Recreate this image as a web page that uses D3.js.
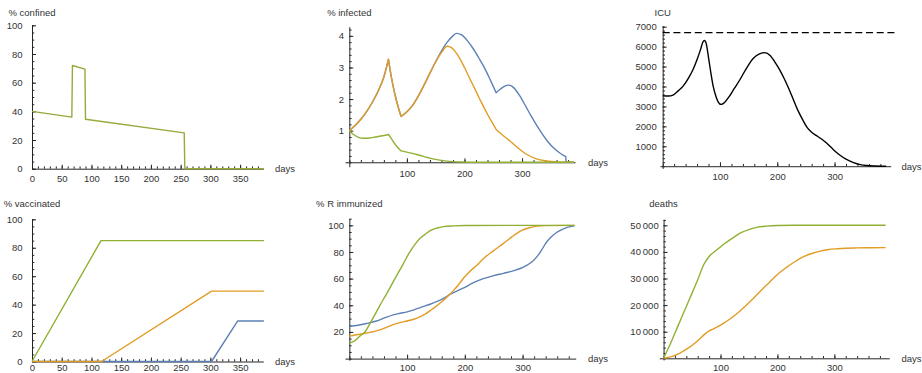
<!DOCTYPE html>
<html>
<head>
<meta charset="utf-8">
<script src="https://cdn.jsdelivr.net/npm/d3@7"></script>
<style>
  html, body { margin: 0; padding: 0; background: #fff; }
  svg { display: block; }
  text { font-family: "Liberation Sans", Arial, sans-serif; }
</style>
</head>
<body>
<script>
// ---------- data ----------
// confinement share (same policy for every scenario)
const confinedDays = [0, 67, 68, 89, 90, 256, 257, 390];
const confinedPct  = [40, 36, 72, 69.5, 34.5, 25, 0, 0];

// infected share per scenario
const infBlueDays = [0,10,20,30,40,50,60,68,72,76,80,85,90,100,110,120,130,140,150,160,170,180,186,195,205,215,225,235,245,255,262,270,277,285,295,305,315,325,335,345,355,365,372,376,376.5,390];
const infBlueVals = [1,1.16,1.36,1.6,1.9,2.25,2.7,3.25,2.8,2.42,2.09,1.74,1.45,1.6,1.8,2.1,2.45,2.82,3.18,3.52,3.8,4.0,4.08,4.03,3.85,3.6,3.3,2.98,2.6,2.2,2.31,2.41,2.44,2.37,2.13,1.82,1.49,1.18,0.9,0.65,0.45,0.3,0.22,0.18,0,0];
const infBlueKinks = [68, 90, 255, 376, 376.5];

const infOrangeDays = [0,10,20,30,40,50,60,68,72,76,80,85,90,100,110,120,130,140,150,160,170,178,185,192,200,210,220,230,240,248,255,265,280,290,300,310,325,340,355,370,390];
const infOrangeVals = [1,1.16,1.36,1.6,1.9,2.25,2.7,3.27,2.8,2.42,2.09,1.74,1.45,1.6,1.8,2.1,2.45,2.82,3.18,3.47,3.67,3.62,3.48,3.28,3.0,2.62,2.25,1.87,1.52,1.26,1.04,0.88,0.66,0.5,0.35,0.23,0.11,0.05,0.02,0.005,0];
const infOrangeKinks = [68, 90, 255];

const infGreenDays = [0,8,16,25,35,45,55,68,72,76,80,85,90,100,110,120,130,140,150,160,170,180,195,210,230,390];
const infGreenVals = [1,0.87,0.79,0.76,0.77,0.8,0.83,0.88,0.78,0.66,0.56,0.45,0.36,0.32,0.28,0.23,0.18,0.13,0.09,0.06,0.035,0.02,0.008,0.002,0,0];
const infGreenKinks = [68, 90];

// ICU occupancy and capacity
const icuDays = [0,10,18,27,36,45,53,60,66,70,73,76,80,84,88,93,97,102,108,115,125,135,147,158,168,178,188,195,203,212,220,228,236,244,252,260,267,276,286,298,309,320,333,345,356,370,390];
const icuBeds = [3530,3520,3570,3780,4030,4420,4850,5350,5850,6220,6310,6150,5450,4700,4030,3500,3220,3100,3200,3450,3900,4350,4950,5400,5620,5700,5540,5260,4900,4400,3900,3350,2800,2350,1950,1700,1560,1390,1160,830,560,350,180,80,35,10,0];
const icuCapacity = 6700;
const icuCapacitySpan = [0, 406];

// vaccinated share per scenario
const vacBlueDays = [0, 302, 346, 390];
const vacBlueVals = [0, 0, 28.5, 28.5];
const vacOrangeDays = [0, 117, 302, 390];
const vacOrangeVals = [0, 0, 49.5, 49.5];
const vacGreenDays = [0, 116, 390];
const vacGreenVals = [0, 85, 85];

// immunized share per scenario
const immBlueDays = [0,15,30,47,62,76,88,100,112,123,140,150,160,175,200,215,232,250,267,285,296,307,316,325,333,342,350,359,368,377,390];
const immBlueVals = [24.3,25,26.3,28.2,30.7,32.8,34,35.1,36.6,38.3,40.8,42.5,44.5,48.3,53.5,57,60,62.3,64,66,67.6,70,72.5,76.5,81.5,87.7,91.5,94.6,96.8,98.5,99.6];
const immOrangeDays = [0,20,47,62,76,88,100,112,123,132,140,150,163,172,181,190,199,210,222,232,250,267,282,298,310,325,340,390];
const immOrangeVals = [17,18.5,20.8,23,25.5,27,28.2,29.5,31.5,33.5,36,39.2,43.8,47.3,51.4,56,61,66,70.5,75,81,86.5,91.5,96,98,99.4,99.8,100];
const immGreenDays = [0,8,15,20,27,36,45,53,65,79,92,104,115,123,132,140,152,163,180,200,390];
const immGreenVals = [11.7,13,15.5,17.5,20,26.5,33.5,40,49,60,70,79.5,86.5,90.5,93.5,96,98,99,99.6,99.9,100];

// cumulative deaths per scenario
const deathOrangeDays = [0,15,28,43,58,72,80,87,95,105,116,128,143,158,172,187,201,216,231,246,260,275,290,305,320,340,360,390];
const deathOrangeVals = [0,700,1900,3800,6240,9000,10300,11000,11900,13150,14700,16650,19500,22550,25700,28800,31700,34200,36400,38200,39400,40300,40900,41200,41400,41500,41550,41600];
const deathGreenDays = [0,10,20,30,40,50,60,70,80,92,105,122,137,151,165,180,200,230,390];
const deathGreenVals = [0,4500,9500,14500,19500,24500,29500,35000,38300,40500,42800,45300,47300,48500,49300,49700,49950,50000,50000];

// tick labels
const pctTicks = [0, 20, 40, 60, 80, 100];
const immTicks = [20, 40, 60, 80, 100];
const infTicks = [1, 2, 3, 4];
const icuTicks = [1000, 2000, 3000, 4000, 5000, 6000, 7000];
const deathTicks = [10000, 20000, 30000, 40000, 50000];
const dayTicks50 = [0, 50, 100, 150, 200, 250, 300, 350];
const dayTicks100 = [100, 200, 300];

// ---------- drawing ----------
const COL = { blue: "#5E81B5", orange: "#E19C24", green: "#8FB032", olive: "#9AA83A" };
const AXIS = "#262626", LABEL = "#333";

const svg = d3.select("body").append("svg").attr("width", 922).attr("height", 373);

const fmtThousands = v => d3.format(",")(v).replace(/,/g, "\u2009");

function pathFor(x, y, days, vals, kinks, curve) {
  const pts = days.map((d, i) => [d, vals[i]]);
  // split at corner days so smooth pieces meet with a sharp corner
  const pieces = [];
  let cur = [];
  pts.forEach(p => {
    cur.push(p);
    if (kinks.includes(p[0])) { pieces.push(cur); cur = [p]; }
  });
  if (cur.length > 1) pieces.push(cur);
  const gen = d3.line().x(d => x(d[0])).y(d => y(d[1])).curve(curve);
  return pieces.map((pc, i) => {
    const s = gen(pc);
    return i === 0 ? s : "L" + s.slice(1);
  }).join("");
}

function drawPanel(p) {
  const g = svg.append("g");
  const x = d3.scaleLinear().domain(p.xExt).range(p.xPix);
  const y = d3.scaleLinear().domain(p.yExt).range(p.yPix);

  // minor ticks
  g.append("g").attr("transform", `translate(${x(0)},0)`)
    .call(d3.axisLeft(y).tickValues(p.yMinor).tickSize(-2.3).tickFormat(""))
    .call(s => s.select(".domain").remove())
    .call(s => s.selectAll("line").attr("stroke", AXIS));
  g.append("g").attr("transform", `translate(0,${y(0)})`)
    .call(d3.axisBottom(x).tickValues(p.xMinor).tickSize(-2.3).tickFormat(""))
    .call(s => s.select(".domain").remove())
    .call(s => s.selectAll("line").attr("stroke", AXIS));

  // major axes
  const ya = g.append("g").attr("transform", `translate(${x(0)},0)`)
    .call(d3.axisLeft(y).tickValues(p.yTicks).tickSize(-4).tickSizeOuter(0)
      .tickPadding(p.yPad).tickFormat(p.yFmt || d3.format("d")));
  const xa = g.append("g").attr("transform", `translate(0,${y(0)})`)
    .call(d3.axisBottom(x).tickValues(p.xTicks).tickSize(-4).tickSizeOuter(0)
      .tickFormat(d3.format("d")));
  [ya, xa].forEach(a => {
    a.select(".domain").attr("stroke", AXIS);
    a.selectAll(".tick line").attr("stroke", AXIS);
    a.selectAll("text").attr("fill", LABEL).attr("font-size", 9.5)
      .attr("font-family", '"Liberation Sans", Arial, sans-serif');
  });
  xa.selectAll("text").attr("y", p.xPad).attr("dy", "0.35em");

  // extra reference line
  if (p.refLine) {
    g.append("line")
      .attr("x1", x(p.refLine.span[0])).attr("x2", x(p.refLine.span[1]))
      .attr("y1", y(p.refLine.value)).attr("y2", y(p.refLine.value))
      .attr("stroke", "#000").attr("stroke-width", 1.2).attr("stroke-dasharray", "7,3.7");
  }

  // series
  p.series.forEach(s => {
    g.append("path")
      .attr("d", pathFor(x, y, s.days, s.vals, s.kinks || [], s.curve || d3.curveMonotoneX))
      .attr("fill", "none").attr("stroke", s.color).attr("stroke-width", 1.4)
      .attr("stroke-linejoin", "round");
  });

  // labels
  g.append("text").attr("x", x(0)).attr("y", p.titleY).attr("text-anchor", "middle")
    .attr("font-size", 9.5).attr("fill", LABEL).text(p.title);
  g.append("text").attr("x", p.daysX).attr("y", y(0)).attr("dy", "0.35em")
    .attr("font-size", 9.5).attr("fill", LABEL).text("days");
}

const lin = d3.curveLinear;
const minorDays10 = d3.range(0, 390, 10);
const minorDays20 = d3.range(0, 400, 20);

drawPanel({
  title: "% confined", titleY: 15.5, daysX: 275,
  xExt: [0, 389], xPix: [32, 263.3], yExt: [0, 100.5], yPix: [168.7, 24.6],
  xTicks: dayTicks50, xMinor: minorDays10, yTicks: pctTicks, yMinor: d3.range(0, 101, 5),
  yPad: 9.5, xPad: 10,
  series: [{ days: confinedDays, vals: confinedPct, color: COL.olive, curve: lin }]
});

drawPanel({
  title: "% infected", titleY: 15.5, daysX: 588,
  xExt: [-7.5, 392], xPix: [345, 575], yExt: [-0.14, 4.29], yPix: [166.7, 26.7],
  xTicks: dayTicks100, xMinor: minorDays20, yTicks: infTicks, yMinor: d3.range(0, 4.3, 0.2),
  yPad: 5.3, xPad: 11,
  series: [
    { days: infBlueDays, vals: infBlueVals, kinks: infBlueKinks, color: COL.blue },
    { days: infOrangeDays, vals: infOrangeVals, kinks: infOrangeKinks, color: COL.orange },
    { days: infGreenDays, vals: infGreenVals, kinks: infGreenKinks, color: COL.green }
  ]
});

drawPanel({
  title: "ICU", titleY: 15.5, daysX: 901.5,
  xExt: [-4.7, 398], xPix: [660, 890.7], yExt: [-110, 7060], yPix: [168.4, 25.5],
  xTicks: dayTicks100, xMinor: minorDays20, yTicks: icuTicks, yMinor: d3.range(0, 7001, 200),
  yPad: 6, xPad: 10,
  refLine: { value: icuCapacity, span: icuCapacitySpan },
  series: [{ days: icuDays, vals: icuBeds, color: "#000" }]
});

drawPanel({
  title: "% vaccinated", titleY: 206.5, daysX: 275,
  xExt: [0, 389], xPix: [32, 263.3], yExt: [0, 100.3], yPix: [361.5, 218.9],
  xTicks: dayTicks50, xMinor: minorDays10, yTicks: pctTicks, yMinor: d3.range(0, 101, 5),
  yPad: 9.5, xPad: 6,
  series: [
    { days: vacBlueDays, vals: vacBlueVals, color: COL.blue, curve: lin },
    { days: vacOrangeDays, vals: vacOrangeVals, color: COL.orange, curve: lin },
    { days: vacGreenDays, vals: vacGreenVals, color: COL.green, curve: lin }
  ]
});

drawPanel({
  title: "% R immunized", titleY: 206.5, daysX: 588,
  xExt: [-7.5, 392], xPix: [345, 575.7], yExt: [-1.2, 105.2], yPix: [360.2, 218.4],
  xTicks: dayTicks100, xMinor: minorDays20, yTicks: immTicks, yMinor: d3.range(0, 106, 5),
  yPad: 5.3, xPad: 8.8,
  series: [
    { days: immBlueDays, vals: immBlueVals, color: COL.blue },
    { days: immOrangeDays, vals: immOrangeVals, color: COL.orange },
    { days: immGreenDays, vals: immGreenVals, color: COL.green }
  ]
});

drawPanel({
  title: "deaths", titleY: 206.5, daysX: 901.5,
  xExt: [-7.5, 396.5], xPix: [659.3, 889.3], yExt: [-600, 52300], yPix: [359.9, 219.2],
  xTicks: dayTicks100, xMinor: minorDays20, yTicks: deathTicks, yMinor: d3.range(0, 52001, 2000),
  yPad: 4.9, xPad: 9, yFmt: fmtThousands,
  series: [
    { days: deathOrangeDays, vals: deathOrangeVals, color: COL.orange },
    { days: deathGreenDays, vals: deathGreenVals, color: COL.green }
  ]
});
</script>
</body>
</html>
